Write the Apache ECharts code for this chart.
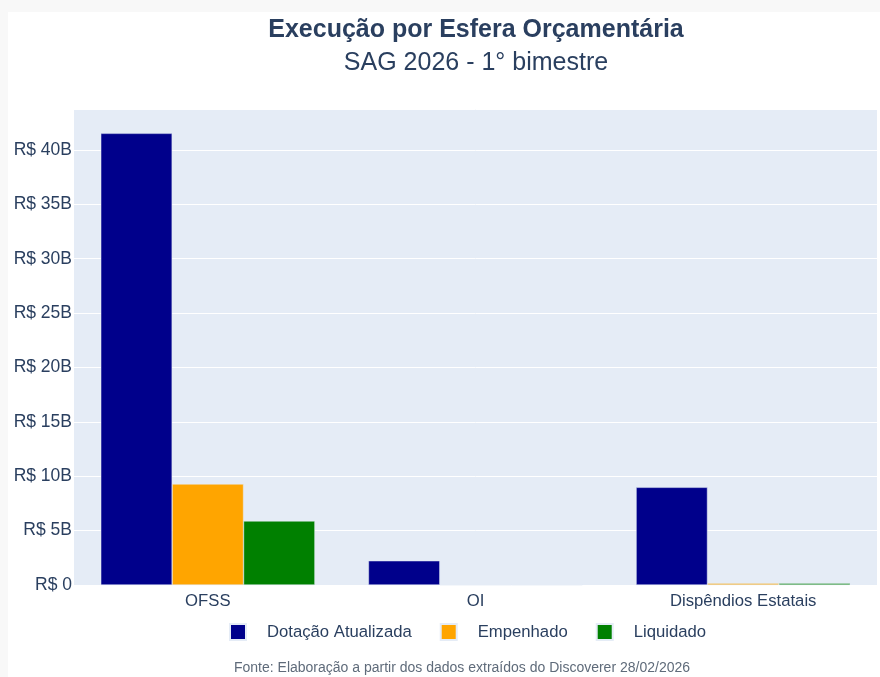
<!DOCTYPE html>
<html><head><meta charset="utf-8">
<script src="https://cdn.jsdelivr.net/npm/echarts@6/dist/echarts.min.js"></script>
<style>html,body{margin:0;padding:0;background:#fff}#c{width:880px;height:677px}</style>
</head><body><div id="c"></div>
<script>
const categories = ['OFSS', 'OI', 'Dispêndios Estatais'];
const dotacao = [41.53, 2.23, 8.98];
const empenhado = [9.29, 0.02, 0.15];
const liquidado = [5.89, 0.02, 0.15];
const yTicks = [0, 5, 10, 15, 20, 25, 30, 35, 40];
const title = 'Execução por Esfera Orçamentária';
const subtitle = 'SAG 2026 - 1° bimestre';
const footer = 'Fonte: Elaboração a partir dos dados extraídos do Discoverer 28/02/2026';

const FONT = '"Liberation Sans", Arial, sans-serif';
const TXT = '#2a3f5f';
const chart = echarts.init(document.getElementById('c'), null, {renderer: 'canvas'});
const mk = (name, data, color) => ({
  name, type: 'bar', data, barGap: '0%', barCategoryGap: '20%',
  itemStyle: {color, borderColor: '#E5ECF6', borderWidth: 0.5},
  emphasis: {disabled: true}
});
chart.setOption({
  animation: false,
  backgroundColor: '#f8f8f8',
  textStyle: {fontFamily: FONT},
  graphic: [{type: 'rect', silent: true, z: -100, left: 8, top: 12,
             shape: {width: 872, height: 665}, style: {fill: '#ffffff'}}],
  title: [
    {text: title, left: 471, top: 13, textAlign: 'center',
     textStyle: {fontFamily: FONT, fontSize: 25, fontWeight: 'bold', color: TXT}},
    {text: subtitle, left: 471, top: 46, textAlign: 'center',
     textStyle: {fontFamily: FONT, fontSize: 25, fontWeight: 'normal', color: TXT}},
    {text: footer, left: 457, top: 656, textAlign: 'center',
     textStyle: {fontFamily: FONT, fontSize: 14, fontWeight: 'normal', color: '#5f6b7a'}}
  ],
  legend: {
    data: ['Dotação Atualizada', 'Empenhado', 'Liquidado'],
    left: 229, top: 623, padding: 0, itemWidth: 16, itemHeight: 16, itemGap: 28,
    icon: 'rect', selectedMode: false,
    textStyle: {fontFamily: FONT, fontSize: 16.7, color: TXT, padding: [0, 0, 0, 16]}
  },
  grid: {left: 74, right: 3, top: 109, bottom: 92, containLabel: false,
         show: true, backgroundColor: '#E5ECF6', borderWidth: 0},
  xAxis: {
    type: 'category', data: categories,
    axisLine: {show: false}, axisTick: {show: false},
    axisLabel: {fontFamily: FONT, fontSize: 16.7, color: TXT, margin: 8}
  },
  yAxis: {
    type: 'value', min: 0, max: 43.77, interval: 5,
    axisLine: {show: false}, axisTick: {show: false},
    splitLine: {lineStyle: {color: '#ffffff', width: 1}},
    axisLabel: {fontFamily: FONT, fontSize: 17.5, color: TXT, margin: 2, showMaxLabel: false,
      formatter: v => yTicks.includes(v) ? (v === 0 ? 'R$ 0' : 'R$ ' + v + 'B') : ''}
  },
  series: [
    mk('Dotação Atualizada', dotacao, '#00008B'),
    mk('Empenhado', empenhado, '#FFA500'),
    mk('Liquidado', liquidado, '#008000')
  ]
});
</script></body></html>
